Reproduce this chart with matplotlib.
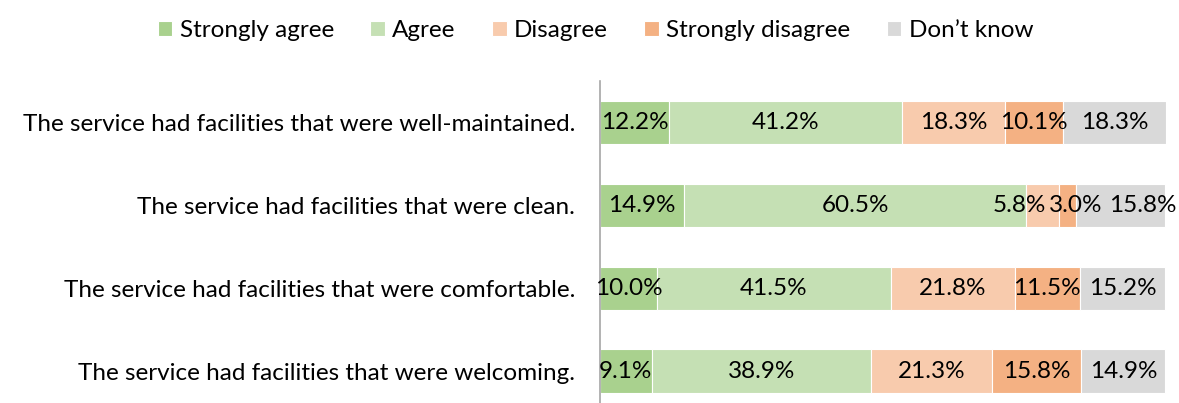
import numpy as np
import matplotlib.pyplot as plt

categories = ["The service had facilities that were well-maintained.",
              "The service had facilities that were clean.",
              "The service had facilities that were comfortable.",
              "The service had facilities that were welcoming."]
series = ["Strongly agree", "Agree", "Disagree", "Strongly disagree", "Don\u2019t know"]
strongly_agree = [12.2, 14.9, 10.0, 9.1]
agree = [41.2, 60.5, 41.5, 38.9]
disagree = [18.3, 5.8, 21.8, 21.3]
strongly_disagree = [10.1, 3.0, 11.5, 15.8]
dont_know = [18.3, 15.8, 15.2, 14.9]
colors = ["#a9d18e", "#c5e0b4", "#f8cbad", "#f4b183", "#d9d9d9"]

plt.rcParams['font.family'] = ['Lato', 'DejaVu Sans']
fs = 17.5

fig = plt.figure(figsize=(11.79, 4.03), dpi=100)
ax = fig.add_axes([0.509, 0.0, 0.48, 0.8])

y = np.arange(len(categories))
left = np.zeros(len(categories))
all_labels = []
for name, vals, c in zip(series, [strongly_agree, agree, disagree, strongly_disagree, dont_know], colors):
    vals = np.array(vals)
    bars = ax.barh(y, vals, left=left, height=0.52, color=c, edgecolor="white", linewidth=0.8, label=name)
    texts = ax.bar_label(bars, labels=["%.1f%%" % v for v in vals], label_type="center", fontsize=fs, color="black")
    all_labels.append(texts)
    left += vals

# nudge crowded labels in the "clean" row apart, like the original
all_labels[2][1].xyann = (-17, 0)
all_labels[3][1].xyann = (6, 0)
all_labels[4][1].xyann = (16, 0)

ax.set_xlim(0, 100.1)
ax.set_ylim(3.386, -0.506)
ax.set_yticks(y)
ax.set_yticklabels(categories, fontsize=fs)
ax.tick_params(axis="y", length=0, pad=18)
ax.set_xticks([])
for s in ["top", "right", "bottom"]:
    ax.spines[s].set_visible(False)
ax.spines["left"].set_color("#a6a6a6")
ax.spines["left"].set_linewidth(1.2)

fig.legend(loc="upper center", bbox_to_anchor=(0.505, 1.005), ncol=5, frameon=False, fontsize=fs,
           handlelength=0.6, handleheight=0.6, handletextpad=0.3, columnspacing=1.5)

fig.savefig("out.png", dpi=100)
